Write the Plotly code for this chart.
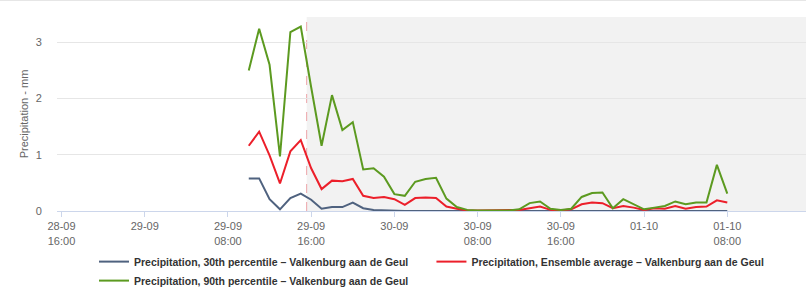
import pandas as pd
import plotly.graph_objects as go

# ---- data ----
start_time = "2021-09-29 10:00"
n_points = 47
times = pd.date_range(start_time, periods=n_points, freq="h")

p30 = [0.58, 0.58, 0.21, 0.03, 0.23, 0.31, 0.20, 0.04, 0.07, 0.07,
       0.15, 0.05, 0.02, 0.01, 0.01, 0.0, 0.0, 0.0, 0.0, 0.0,
       0.0, 0.0, 0.0, 0.0, 0.0, 0.0, 0.0, 0.0, 0.0, 0.0,
       0.0, 0.0, 0.0, 0.0, 0.0, 0.0, 0.0, 0.0, 0.0, 0.0,
       0.0, 0.0, 0.0, 0.0, 0.0, 0.0, 0.0]
avg = [1.16, 1.41, 0.99, 0.49, 1.06, 1.26, 0.76, 0.39, 0.54, 0.53,
       0.57, 0.27, 0.23, 0.25, 0.21, 0.11, 0.23, 0.24, 0.23, 0.08,
       0.04, 0.01, 0.01, 0.01, 0.01, 0.01, 0.02, 0.05, 0.08, 0.02,
       0.01, 0.03, 0.12, 0.15, 0.14, 0.05, 0.09, 0.06, 0.02, 0.05,
       0.04, 0.09, 0.04, 0.07, 0.08, 0.19, 0.15]
p90 = [2.50, 3.24, 2.60, 0.97, 3.18, 3.28, 2.20, 1.16, 2.06, 1.44,
       1.58, 0.74, 0.76, 0.61, 0.30, 0.27, 0.52, 0.57, 0.59, 0.22,
       0.07, 0.02, 0.01, 0.01, 0.01, 0.01, 0.03, 0.14, 0.17, 0.04,
       0.02, 0.04, 0.25, 0.32, 0.33, 0.05, 0.21, 0.12, 0.03, 0.06,
       0.09, 0.17, 0.12, 0.15, 0.15, 0.82, 0.31]

series_names = [
    "Precipitation, 30th percentile – Valkenburg aan de Geul",
    "Precipitation, Ensemble average – Valkenburg aan de Geul",
    "Precipitation, 90th percentile – Valkenburg aan de Geul",
]
series_colors = ["#4f627f", "#ec1f2a", "#5c9a20"]

tick_vals = ["2021-09-28 16:00", "2021-09-29 00:00", "2021-09-29 08:00",
             "2021-09-29 16:00", "2021-09-30 00:00", "2021-09-30 08:00",
             "2021-09-30 16:00", "2021-10-01 00:00", "2021-10-01 08:00"]
tick_text = ["28-09<br>16:00", "29-09", "29-09<br>08:00", "29-09<br>16:00",
             "30-09", "30-09<br>08:00", "30-09<br>16:00", "01-10",
             "01-10<br>08:00"]

now_time = "2021-09-29 15:34"
x_start = "2021-09-28 15:34"
x_end = "2021-10-01 15:34"

FONT = "Liberation Sans, Arial, sans-serif"

fig = go.Figure()
for name, vals, col in zip(series_names, [p30, avg, p90], series_colors):
    fig.add_trace(go.Scatter(x=times, y=vals, mode="lines", name=name,
                             line=dict(color=col, width=2)))

# forecast band
fig.add_shape(type="rect", xref="x", yref="paper", x0=now_time, x1=x_end,
              y0=0, y1=1, fillcolor="#f2f2f2", line_width=0, layer="below")
fig.add_shape(type="line", xref="x", yref="paper", x0=now_time, x1=now_time,
              y0=0, y1=1, line=dict(color="#eda3a8", width=1, dash="dash"),
              layer="below")
# top border of container
fig.add_shape(type="line", xref="paper", yref="paper", x0=-0.08, x1=1,
              y0=1.085, y1=1.085, line=dict(color="#e6e6e6", width=1))

fig.update_layout(
    width=806, height=288,
    margin=dict(l=57, r=0, t=17, b=77, autoexpand=False),
    paper_bgcolor="white", plot_bgcolor="white",
    font=dict(family=FONT, size=11, color="#666666"),
    showlegend=True,
    legend=dict(orientation="h", x=0.5, xanchor="center",
                yref="container", y=0.142, yanchor="top",
                font=dict(family=FONT, size=10.5, color="#333333", weight="bold"),
                itemwidth=30, tracegroupgap=0),
    xaxis=dict(range=[x_start, x_end], tickmode="array", tickvals=tick_vals,
               ticktext=tick_text, showgrid=False, showline=True,
               linecolor="#ccd6eb", linewidth=1, ticks="outside", ticklen=5,
               tickcolor="#ccd6eb", zeroline=False, automargin=False,
               tickfont=dict(family=FONT, size=11, color="#666666")),
    yaxis=dict(range=[0, 3.45], tickvals=[0, 1, 2, 3], showgrid=True,
               gridcolor="#e6e6e6", zeroline=False, showline=False,
               ticks="outside", ticklen=12, tickcolor="rgba(0,0,0,0)",
               automargin=False,
               title=dict(text="Precipitation - mm", standoff=4,
                          font=dict(family=FONT, size=11, color="#666666")),
               tickfont=dict(family=FONT, size=11, color="#666666")),
)

fig.write_html("out.html", config={"displayModeBar": False},
               post_script="document.body.style.margin='0';document.body.style.overflow='hidden';")
